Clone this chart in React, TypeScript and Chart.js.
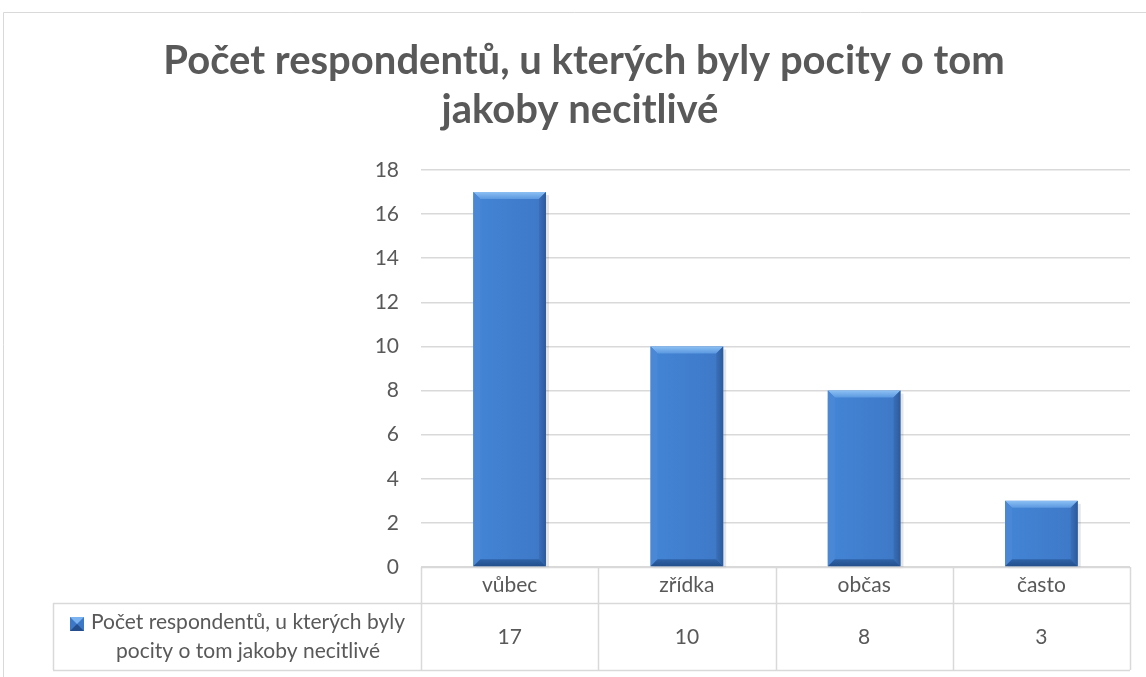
import React, { useEffect, useRef } from "react";
import { Chart, registerables } from "chart.js";

Chart.register(...registerables);

const categories = ["vůbec", "zřídka", "občas", "často"];
const seriesName = "Počet respondentů, u kterých byly pocity o tom jakoby necitlivé";
const seriesLegendLines = ["Počet respondentů, u kterých byly", "pocity o tom jakoby necitlivé"];
const values = [17, 10, 8, 3];
const titleLines = ["Počet respondentů, u kterých byly pocity o tom", "jakoby necitlivé"];

const FONT = "Lato, 'Open Sans', sans-serif";
const TEXT = "#595959";
const LINE = "#d9d9d9";

const framePlugin = {
  id: "frame",
  beforeDraw(chart: any) {
    const ctx = chart.ctx;
    ctx.save();
    ctx.fillStyle = "#ffffff";
    ctx.fillRect(0, 0, chart.width, chart.height);
    ctx.strokeStyle = LINE;
    ctx.lineWidth = 1;
    ctx.beginPath();
    ctx.moveTo(3.5, chart.height);
    ctx.lineTo(3.5, 12.5);
    ctx.lineTo(chart.width, 12.5);
    ctx.stroke();
    // title
    ctx.fillStyle = TEXT;
    ctx.font = `bold 40px ${FONT}`;
    ctx.textAlign = "center";
    ctx.textBaseline = "alphabetic";
    ctx.fillText(titleLines[0], 584, 74);
    ctx.fillText(titleLines[1], 580, 123);
    ctx.restore();
  },
};

const bevelPlugin = {
  id: "bevel",
  afterDatasetsDraw(chart: any) {
    const ctx = chart.ctx;
    const meta = chart.getDatasetMeta(0);
    ctx.save();
    meta.data.forEach((bar: any) => {
      const { x, y, base, width } = bar.getProps(["x", "y", "base", "width"], true);
      const l = x - width / 2;
      const r = x + width / 2;
      const t = y;
      const b = base;
      const d = 7;
      // shadow
      ctx.fillStyle = "rgba(0,0,0,0.10)";
      ctx.fillRect(r, t + 3, 3, b - t - 3);
      ctx.fillRect(l + 3, b, width, 2);
      // face
      const g = ctx.createLinearGradient(l, 0, r, 0);
      g.addColorStop(0, "#4485d6");
      g.addColorStop(1, "#3d78c6");
      ctx.fillStyle = g;
      ctx.fillRect(l, t, width, b - t);
      // top bevel
      const gt = ctx.createLinearGradient(0, t, 0, t + d);
      gt.addColorStop(0, "#8cc0f4");
      gt.addColorStop(1, "#5b98e0");
      ctx.fillStyle = gt;
      ctx.beginPath();
      ctx.moveTo(l, t); ctx.lineTo(r, t); ctx.lineTo(r - d, t + d); ctx.lineTo(l + d, t + d); ctx.closePath();
      ctx.fill();
      // left bevel
      ctx.fillStyle = "#4a88d6";
      ctx.beginPath();
      ctx.moveTo(l, t); ctx.lineTo(l + d, t + d); ctx.lineTo(l + d, b - d); ctx.lineTo(l, b); ctx.closePath();
      ctx.fill();
      // right bevel
      const gr = ctx.createLinearGradient(r - d, 0, r, 0);
      gr.addColorStop(0, "#3a70b8");
      gr.addColorStop(1, "#2b5a9c");
      ctx.fillStyle = gr;
      ctx.beginPath();
      ctx.moveTo(r, t); ctx.lineTo(r - d, t + d); ctx.lineTo(r - d, b - d); ctx.lineTo(r, b); ctx.closePath();
      ctx.fill();
      // bottom bevel
      const gb = ctx.createLinearGradient(0, b - d, 0, b);
      gb.addColorStop(0, "#2f63a8");
      gb.addColorStop(1, "#244f8c");
      ctx.fillStyle = gb;
      ctx.beginPath();
      ctx.moveTo(l, b); ctx.lineTo(l + d, b - d); ctx.lineTo(r - d, b - d); ctx.lineTo(r, b); ctx.closePath();
      ctx.fill();
    });
    ctx.restore();
  },
};

const tablePlugin = {
  id: "dataTable",
  afterDraw(chart: any) {
    const ctx = chart.ctx;
    const xs = chart.scales.x;
    const area = chart.chartArea;
    const top = area.bottom;
    const mid = top + 36;
    const bottom = top + 103;
    const legendLeft = 53;
    const step = (area.right - area.left) / categories.length;
    ctx.save();
    ctx.strokeStyle = LINE;
    ctx.lineWidth = 1.5;
    ctx.beginPath();
    ctx.moveTo(area.left, top + 0.5); ctx.lineTo(area.right, top + 0.5);
    ctx.moveTo(legendLeft, mid + 0.5); ctx.lineTo(area.right, mid + 0.5);
    ctx.moveTo(legendLeft, bottom + 0.5); ctx.lineTo(area.right, bottom + 0.5);
    ctx.moveTo(legendLeft + 0.5, mid); ctx.lineTo(legendLeft + 0.5, bottom);
    for (let i = 0; i <= categories.length; i++) {
      const px = Math.round(area.left + i * step) + 0.5;
      ctx.moveTo(px, top); ctx.lineTo(px, bottom);
    }
    ctx.stroke();

    ctx.fillStyle = TEXT;
    ctx.font = `21px ${FONT}`;
    ctx.textAlign = "center";
    ctx.textBaseline = "alphabetic";
    categories.forEach((c, i) => {
      const px = xs.getPixelForValue(i);
      ctx.fillText(c, px, top + 25);
      ctx.fillText(String(values[i]), px, top + 77);
    });
    const cx = 248;
    ctx.fillText(seriesLegendLines[0], cx, top + 62);
    ctx.fillText(seriesLegendLines[1], cx, top + 91);
    const w0 = ctx.measureText(seriesLegendLines[0]).width;
    const mx = cx - w0 / 2 - 21;
    const my = top + 50;
    ctx.fillStyle = "#3d78c6";
    ctx.fillRect(mx, my, 14, 14);
    ctx.fillStyle = "#7bb3f0";
    ctx.beginPath();
    ctx.moveTo(mx, my); ctx.lineTo(mx + 14, my); ctx.lineTo(mx + 7, my + 7); ctx.closePath();
    ctx.fill();
    ctx.fillStyle = "#244f8c";
    ctx.beginPath();
    ctx.moveTo(mx, my + 14); ctx.lineTo(mx + 14, my + 14); ctx.lineTo(mx + 7, my + 7); ctx.closePath();
    ctx.fill();
    ctx.restore();
  },
};

export default function App() {
  const ref = useRef<HTMLCanvasElement | null>(null);
  useEffect(() => {
    if (!ref.current) return;
    const chart = new Chart(ref.current, {
      type: "bar",
      data: {
        labels: categories,
        datasets: [
          {
            label: seriesName,
            data: values,
            backgroundColor: "rgba(0,0,0,0)",
            borderWidth: 0,
            barPercentage: 0.41,
            categoryPercentage: 1,
          },
        ],
      },
      options: {
        responsive: false,
        animation: false,
        layout: { padding: { left: 0, right: 16, top: 170, bottom: 110 } },
        plugins: {
          legend: { display: false },
          title: { display: false },
          tooltip: { enabled: false },
        },
        scales: {
          x: { display: false },
          y: {
            min: 0,
            max: 18,
            afterFit: (axis: any) => {
              axis.width = 421;
            },
            ticks: {
              stepSize: 2,
              color: TEXT,
              font: { family: FONT, size: 21 },
              padding: 22,
            },
            grid: { color: LINE, drawTicks: false, lineWidth: 1.5 },
            border: { display: false },
          },
        },
      },
      plugins: [framePlugin, bevelPlugin, tablePlugin],
    });
    return () => chart.destroy();
  }, []);
  return (
    <div style={{ position: "absolute", left: 0, top: 0, width: 1146, height: 677 }}>
      <canvas ref={ref} width={1146} height={677} style={{ display: "block" }} />
    </div>
  );
}
